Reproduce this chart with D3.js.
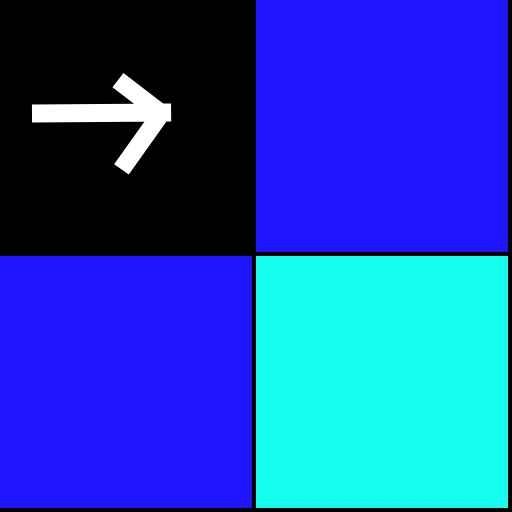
<!DOCTYPE html>
<html>
<head>
<meta charset="utf-8">
<script src="https://cdn.jsdelivr.net/npm/d3@7"></script>
<style>
  html, body { margin: 0; padding: 0; background: #000; }
  svg { display: block; }
</style>
</head>
<body>
<svg id="chart" width="512" height="512"></svg>
<script>
// grid data
var rows = ["r0", "r1"];
var cols = ["c0", "c1"];
var cellValues = [
  [0, 1],
  [1, 2]
];
var levels = [0, 1, 2];
var levelColors = ["#000000", "#1e14ff", "#14ffee"];

// the arrow marker sits in the first cell
var arrowCell = {row: "r0", col: "c0"};

var svg = d3.select("#chart"),
    width = +svg.attr("width"),
    height = +svg.attr("height");

svg.append("rect")
    .attr("width", width)
    .attr("height", height)
    .attr("fill", "#000");

var x = d3.scaleBand().domain(cols).range([0, 508]).paddingInner(1 / 64);
var y = d3.scaleBand().domain(rows).range([0, 508]).paddingInner(1 / 64);
var color = d3.scaleOrdinal().domain(levels).range(levelColors);

var cells = [];
rows.forEach(function (r, i) {
  cols.forEach(function (c, j) {
    cells.push({row: r, col: c, value: cellValues[i][j]});
  });
});

svg.append("g")
  .selectAll("rect")
  .data(cells)
  .join("rect")
    .attr("x", function (d) { return x(d.col); })
    .attr("y", function (d) { return y(d.row); })
    .attr("width", x.bandwidth())
    .attr("height", y.bandwidth())
    .attr("fill", function (d) { return color(d.value); });

// arrow, laid out relative to its cell
var bw = x.bandwidth(), bh = y.bandwidth();
var ax = x(arrowCell.col), ay = y(arrowCell.row);
var arrow = svg.append("g")
    .attr("transform", "translate(" + ax + "," + ay + ")")
    .attr("fill", "none")
    .attr("stroke", "#fff")
    .attr("stroke-width", 18);

arrow.append("line")
    .attr("x1", bw * 0.127).attr("y1", bh * 0.45)
    .attr("x2", bw * 0.679).attr("y2", bh * 0.446);

arrow.append("polyline")
    .attr("stroke-linejoin", "bevel")
    .attr("points", [
      [bw * 0.468, bh * 0.318],
      [bw * 0.64, bh * 0.45],
      [bw * 0.482, bh * 0.672]
    ].map(function (p) { return p.join(","); }).join(" "));
</script>
</body>
</html>
